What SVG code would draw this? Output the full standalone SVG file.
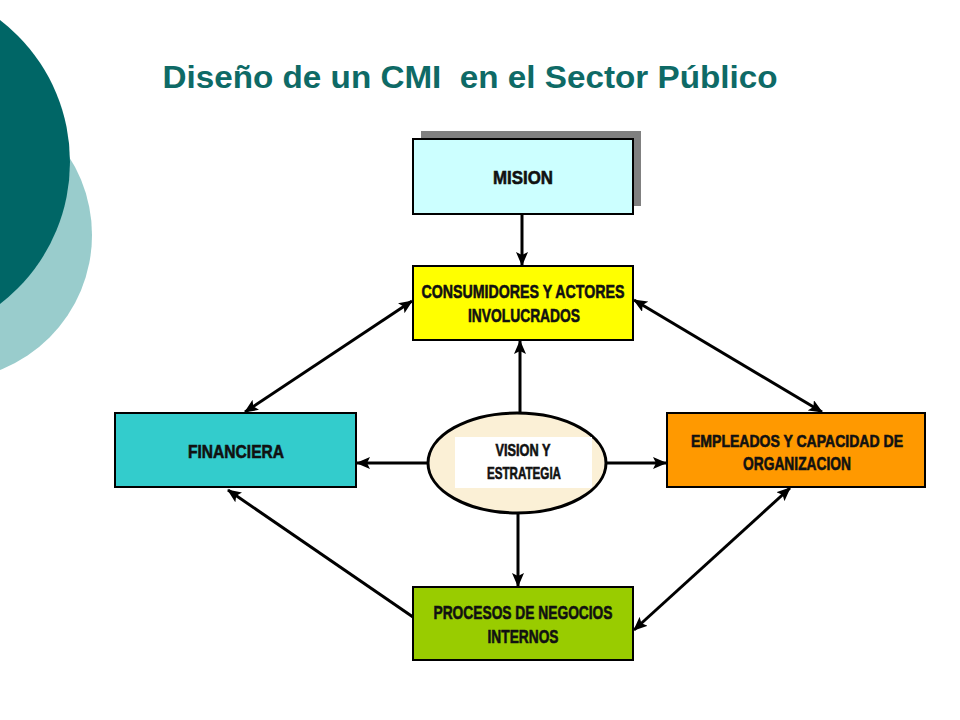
<svg xmlns="http://www.w3.org/2000/svg" width="960" height="720" viewBox="0 0 960 720">
<defs>
<style>
.box{stroke:#000;stroke-width:2}
.lbl{font-family:"Liberation Sans Narrow","Liberation Sans","DejaVu Sans Condensed",sans-serif;font-weight:bold;font-size:19px;fill:#111;stroke:#111;stroke-width:0.6;text-anchor:middle}
.sm{font-size:17px}
.con{stroke:#000;stroke-width:3;fill:none}
</style>
<marker id="ah" viewBox="0 0 14 12" refX="13" refY="6" markerWidth="14" markerHeight="12" markerUnits="userSpaceOnUse" orient="auto-start-reverse">
<path d="M0,0 L14,6 L0,12 L3,6 Z" fill="#000"/>
</marker>
</defs>
<rect width="960" height="720" fill="#fff"/>
<g id="decor">
<circle cx="-53" cy="235" r="145" fill="#99CCCC"/>
<circle cx="-109" cy="162" r="179" fill="#006666"/>
</g>
<text x="470" y="88" font-family="Liberation Sans, Arial, sans-serif" font-weight="bold" font-size="32" fill="#0E6A66" text-anchor="middle" textLength="615" lengthAdjust="spacingAndGlyphs" xml:space="preserve">Diseño de un CMI  en el Sector Público</text>
<g id="connectors">
<line class="con" x1="522" y1="214" x2="522" y2="265" marker-end="url(#ah)"/>
<line class="con" x1="520" y1="412" x2="520" y2="341" marker-end="url(#ah)"/>
<line class="con" x1="518" y1="513" x2="518" y2="586" marker-end="url(#ah)"/>
<line class="con" x1="428" y1="463" x2="357" y2="463" marker-end="url(#ah)"/>
<line class="con" x1="606" y1="463" x2="666" y2="463" marker-end="url(#ah)"/>
<line class="con" x1="245" y1="412" x2="412" y2="301" marker-start="url(#ah)" marker-end="url(#ah)"/>
<line class="con" x1="634" y1="300" x2="822" y2="412" marker-start="url(#ah)" marker-end="url(#ah)"/>
<line class="con" x1="790" y1="488" x2="634" y2="630" marker-start="url(#ah)" marker-end="url(#ah)"/>
<line class="con" x1="413" y1="617" x2="228" y2="490" marker-end="url(#ah)"/>
</g>
<g id="mision">
<rect x="421" y="131" width="220" height="75" fill="#808080"/>
<rect class="box" x="413" y="139" width="220" height="75" fill="#CCFFFF"/>
<text class="lbl" x="523" y="184" textLength="60" lengthAdjust="spacingAndGlyphs">MISION</text>
</g>
<g id="consumidores">
<rect class="box" x="413" y="266" width="220" height="74" fill="#FFFF00"/>
<text class="lbl" x="523" y="298" textLength="203" lengthAdjust="spacingAndGlyphs">CONSUMIDORES Y ACTORES</text>
<text class="lbl" x="524" y="322" textLength="112" lengthAdjust="spacingAndGlyphs">INVOLUCRADOS</text>
</g>
<g id="financiera">
<rect class="box" x="115" y="413" width="241" height="74" fill="#33CCCC"/>
<text class="lbl" x="236" y="458" textLength="96" lengthAdjust="spacingAndGlyphs">FINANCIERA</text>
</g>
<g id="empleados">
<rect class="box" x="667" y="413" width="258" height="74" fill="#FF9900"/>
<text class="lbl sm" x="797" y="447" textLength="212" lengthAdjust="spacingAndGlyphs">EMPLEADOS Y CAPACIDAD DE</text>
<text class="lbl" x="797" y="470" textLength="108" lengthAdjust="spacingAndGlyphs">ORGANIZACION</text>
</g>
<g id="procesos">
<rect class="box" x="413" y="587" width="220" height="73" fill="#99CC00"/>
<text class="lbl" x="523" y="619" textLength="179" lengthAdjust="spacingAndGlyphs">PROCESOS DE NEGOCIOS</text>
<text class="lbl" x="523" y="643" textLength="71" lengthAdjust="spacingAndGlyphs">INTERNOS</text>
</g>
<g id="vision">
<ellipse cx="517" cy="463" rx="89" ry="50" fill="#FBF0D6" stroke="#000" stroke-width="3"/>
<rect x="455" y="437" width="137" height="51" fill="#fff"/>
<text class="lbl sm" x="523" y="456" textLength="55" lengthAdjust="spacingAndGlyphs">VISION Y</text>
<text class="lbl sm" x="524" y="479" textLength="74" lengthAdjust="spacingAndGlyphs">ESTRATEGIA</text>
</g>
</svg>
